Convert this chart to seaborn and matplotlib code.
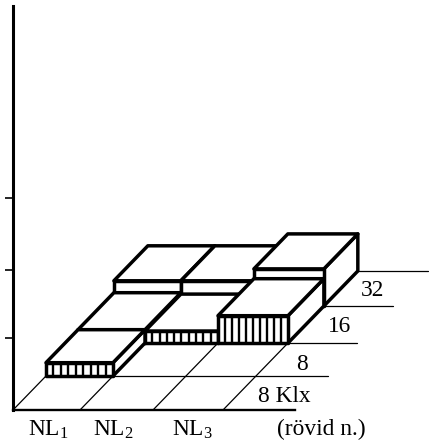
import numpy as np
import pandas as pd
import matplotlib
matplotlib.use("Agg")
import matplotlib.pyplot as plt
import seaborn as sns

# ---- data ----
col_labels = ["NL$_1$", "NL$_2$", "NL$_3$"]
extra_label = "(rövid n.)"
row_labels = ["8 Klx", "8", "16", "32"]
y_ticks = [1.03, 2.0, 3.03]
heights_row0 = [0.0, 0.0, 0.0]
heights_row1 = [0.19, 0.0, 0.0]
heights_row2 = [0.19, 0.17, 0.39]
heights_row3 = [0.36, 0.36, 0.53]
stripes_row1 = [8, 0, 0]
stripes_row2 = [0, 9, 9]
stripes_row3 = [0, 0, 0]

# ---- layout of the oblique floor (pixels) ----
col_edges = np.array([0, 67, 140, 210])
row_depths = np.array([0, 34, 67, 104, 139])
row_ends = [282, 315, 344, 380, 415]
SHEAR = 0.97
UNIT = 70.0
W, H = 429, 446

sns.set_theme(style="white")
plt.rcParams["font.family"] = ["Liberation Serif", "DejaVu Serif"]
plt.rcParams["mathtext.fontset"] = "custom"
plt.rcParams["mathtext.rm"] = "Liberation Serif"
plt.rcParams["mathtext.it"] = "Liberation Serif"
plt.rcParams["mathtext.default"] = "regular"

fig = plt.figure(figsize=(W / 100, H / 100), dpi=100, facecolor="white")
ax = fig.add_axes([13 / W, 36 / H, (W - 13) / W, 404 / H])
ax.set_xlim(0, W - 13)
ax.set_ylim(0, 404 / UNIT)


def proj(col_x, depth, h=0.0):
    return col_x + SHEAR * depth, depth / UNIT + h


# floor lines through seaborn
segs = []
for i, d in enumerate(row_depths[1:], start=1):
    x0, y0 = proj(0, d)
    segs += [(f"r{i}", x0, y0), (f"r{i}", row_ends[i], y0)]
for j, c in enumerate(col_edges):
    x0, y0 = proj(c, 0)
    x1, y1 = proj(c, row_depths[-1])
    segs += [(f"c{j}", x0, y0), (f"c{j}", x1, y1)]
floor = pd.DataFrame(segs, columns=["seg", "x", "y"])
sns.lineplot(data=floor, x="x", y="y", units="seg", estimator=None, sort=False,
             color="black", lw=0.9, ax=ax, legend=False, zorder=1)

# bars, painted back to front
heights = [heights_row0, heights_row1, heights_row2, heights_row3]
stripes = [[0, 0, 0], stripes_row1, stripes_row2, stripes_row3]
edge = dict(facecolor="white", edgecolor="black", linewidth=2.5,
            joinstyle="round")
for r in range(3, -1, -1):
    d0, d1 = row_depths[r], row_depths[r + 1]
    for c in range(3):
        h = heights[r][c]
        if h <= 0:
            continue
        xl, xr = col_edges[c], col_edges[c + 1]
        zo = 3 + (3 - r) * 10 + c
        style = dict(edge, zorder=zo)
        # right side
        pts = [proj(xr, d0), proj(xr, d1), proj(xr, d1, h), proj(xr, d0, h)]
        ax.fill(*zip(*pts), **style)
        # top
        pts = [proj(xl, d0, h), proj(xr, d0, h), proj(xr, d1, h), proj(xl, d1, h)]
        ax.fill(*zip(*pts), **style)
        # front
        pts = [proj(xl, d0), proj(xr, d0), proj(xr, d0, h), proj(xl, d0, h)]
        ax.fill(*zip(*pts), **style)
        n = stripes[r][c]
        if n:
            xs = np.linspace(xl, xr, n + 2)[1:-1]
            for x in xs:
                p0 = proj(x, d0)
                p1 = proj(x, d0, h)
                ax.plot([p0[0], p1[0]], [p0[1], p1[1]], color="black",
                        lw=1.7, solid_capstyle="butt", zorder=zo + 0.5)

# axes
for s in ("top", "right"):
    ax.spines[s].set_visible(False)
ax.spines["left"].set_linewidth(2.2)
ax.spines["bottom"].set_linewidth(1.7)
ax.spines["left"].set_color("black")
ax.spines["bottom"].set_color("black")
ax.spines["bottom"].set_bounds(0, 282)
ax.set_xlabel("")
ax.set_ylabel("")
ax.set_xticks([])
ax.set_yticks(y_ticks)
ax.set_yticklabels([])
ax.tick_params(axis="y", length=6, width=1.2, color="black", left=True)

# text in figure pixels
def label(x, y, s):
    fig.text(x / W, 1 - y / H, s, ha="center", va="center", fontsize=16.8, color="black")

for xp, s in zip([48, 113, 192], col_labels):
    label(xp, 430, s)
label(321, 429, extra_label)
for (xp, yp), s in zip([(284, 396), (302, 364), (340, 326), (373, 290)], row_labels):
    label(xp, yp, s)

fig.savefig("out.png", dpi=100, facecolor="white")
